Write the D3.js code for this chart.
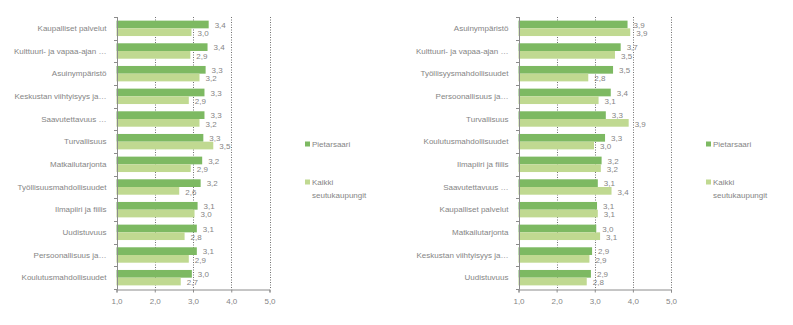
<!DOCTYPE html>
<html>
<head>
<meta charset="utf-8">
<script src="https://cdn.jsdelivr.net/npm/d3@7"></script>
<style>
  html, body { margin: 0; padding: 0; background: #fff; }
  svg text { font-family: "Liberation Sans", Arial, sans-serif; }
</style>
</head>
<body>
<svg id="chart" width="793" height="325"></svg>
<script>
// ---- Data ----
const seriesNames = ["Pietarsaari", "Kaikki seutukaupungit"];
const legendLines = [["Pietarsaari"], ["Kaikki", "seutukaupungit"]];

const leftCategories = [
  "Kaupalliset palvelut", "Kulttuuri- ja vapaa-ajan …", "Asuinympäristö",
  "Keskustan viihtyisyys ja…", "Saavutettavuus …", "Turvallisuus",
  "Matkailutarjonta", "Työllisuusmahdollisuudet", "Ilmapiiri ja fiilis",
  "Uudistuvuus", "Persoonallisuus ja…", "Koulutusmahdollisuudet"
];
const leftPietarsaari = [3.41, 3.38, 3.33, 3.30, 3.30, 3.27, 3.24, 3.20, 3.12, 3.10, 3.10, 2.97];
const leftKaikki      = [2.96, 2.93, 3.17, 2.89, 3.17, 3.53, 2.94, 2.64, 3.04, 2.78, 2.89, 2.68];

const rightCategories = [
  "Asuinympäristö", "Kulttuuri- ja vapaa-ajan …", "Työllisyysmahdollisuudet",
  "Persoonallisuus ja…", "Turvallisuus", "Koulutusmahdollisuudet",
  "Ilmapiiri ja fiilis", "Saavutettavuus …", "Kaupalliset palvelut",
  "Matkailutarjonta", "Keskustan viihtyisyys ja…", "Uudistuvuus"
];
const rightPietarsaari = [3.86, 3.68, 3.48, 3.42, 3.29, 3.27, 3.18, 3.08, 3.06, 3.04, 2.93, 2.90];
const rightKaikki      = [3.93, 3.53, 2.83, 3.10, 3.89, 2.98, 3.16, 3.44, 3.08, 3.14, 2.86, 2.79];

const xTicks = [1, 2, 3, 4, 5];
const xTickLabels = ["1,0", "2,0", "3,0", "4,0", "5,0"];

// ---- Style ----
const colors = ["#7db962", "#c0d991"];
const textColor = "#858585";
const axisColor = "#8c8c8c";
const gridColor = "#707070";
const fmt = v => d3.format(".1f")(v).replace(".", ",");

const svg = d3.select("#chart");

function drawPanel(cfg) {
  const g = svg.append("g");
  const x = d3.scaleLinear().domain([1, 5]).range([cfg.x0, cfg.x1]);
  const y = d3.scaleBand().domain(cfg.categories).range([17, 289]).padding(0);
  const bw = y.bandwidth();
  const barH = bw * 0.34;
  const barOff = bw * 0.16;

  // gridlines (dotted)
  g.selectAll("line.grid").data(xTicks.slice(1)).enter().append("line")
    .attr("x1", d => Math.round(x(d)) + 0.5).attr("x2", d => Math.round(x(d)) + 0.5)
    .attr("y1", 17).attr("y2", 289)
    .attr("stroke", gridColor).attr("stroke-width", 1)
    .attr("stroke-dasharray", "1,1.5");

  const data = cfg.categories.map((c, i) => ({ c, vals: [cfg.s1[i], cfg.s2[i]] }));

  // bars
  data.forEach(d => {
    d.vals.forEach((v, k) => {
      const yy = y(d.c) + barOff + k * barH;
      g.append("rect")
        .attr("x", x(1)).attr("y", yy)
        .attr("width", x(v) - x(1)).attr("height", barH)
        .attr("fill", colors[k]);
      g.append("text")
        .attr("x", x(v) + 6).attr("y", yy + barH / 2 + (k === 1 ? 1 : 0.5))
        .attr("dy", "0.35em")
        .attr("font-size", 8).attr("fill", textColor)
        .text(fmt(v));
    });
  });

  // y axis
  const yAxisG = g.append("g");
  yAxisG.append("line")
    .attr("x1", Math.round(x(1)) + 0.5).attr("x2", Math.round(x(1)) + 0.5)
    .attr("y1", 17).attr("y2", 289.5)
    .attr("stroke", axisColor);
  const boundaries = cfg.categories.map(c => y(c)).concat([289]);
  yAxisG.selectAll("line.t").data(boundaries).enter().append("line")
    .attr("x1", Math.round(x(1)) - 3).attr("x2", Math.round(x(1)) + 0.5)
    .attr("y1", d => Math.round(d) + 0.5).attr("y2", d => Math.round(d) + 0.5)
    .attr("stroke", axisColor);
  yAxisG.selectAll("text").data(cfg.categories).enter().append("text")
    .attr("x", x(1) - 10).attr("y", d => y(d) + bw / 2)
    .attr("dy", "0.35em").attr("text-anchor", "end")
    .attr("font-size", 8).attr("fill", textColor)
    .text(d => d);

  // x axis
  const xAxis = d3.axisBottom(x).tickValues(xTicks)
    .tickFormat((d, i) => xTickLabels[i]).tickSize(3).tickPadding(6);
  const xg = g.append("g").attr("transform", "translate(0,289.5)").call(xAxis);
  xg.select(".domain").attr("stroke", axisColor);
  xg.selectAll(".tick line").attr("stroke", axisColor);
  xg.selectAll(".tick text").attr("fill", textColor).attr("font-size", 8)
    .attr("font-family", "Liberation Sans, Arial, sans-serif");

  // legend
  const lg = g.append("g");
  const ly = [144, 182];
  legendLines.forEach((lines, k) => {
    lg.append("rect").attr("x", cfg.legX).attr("y", ly[k] - 2.5)
      .attr("width", 5).attr("height", 5).attr("fill", colors[k]);
    lines.forEach((t, j) => {
      lg.append("text").attr("x", cfg.legX + 7).attr("y", ly[k] + j * 13)
        .attr("dy", "0.35em").attr("font-size", 8).attr("fill", textColor)
        .text(t);
    });
  });
}

drawPanel({ categories: leftCategories, s1: leftPietarsaari, s2: leftKaikki,
            x0: 116.5, x1: 269.5, legX: 305 });
drawPanel({ categories: rightCategories, s1: rightPietarsaari, s2: rightKaikki,
            x0: 518.5, x1: 671, legX: 706 });
</script>
</body>
</html>
